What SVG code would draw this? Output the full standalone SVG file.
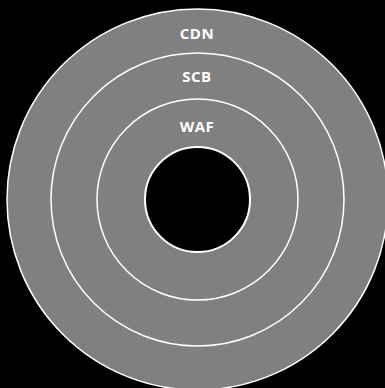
<svg xmlns="http://www.w3.org/2000/svg" width="385" height="388" viewBox="0 0 385 388">
<style>
.ring{fill:#808080;stroke:#ffffff;stroke-width:1.5}
.hole{fill:#000000;stroke:#ffffff;stroke-width:2}
.lbl{fill:#ffffff;font-family:"Open Sans","Liberation Sans",sans-serif;font-weight:700;font-size:15px;letter-spacing:0.5px;text-anchor:middle}
</style>
<rect width="385" height="388" fill="#000000"/>
<g id="cdn"><circle class="ring" cx="197.5" cy="199.5" r="190.5"/><text class="lbl" x="197" y="39">CDN</text></g>
<g id="scb"><circle class="ring" cx="197.5" cy="199.5" r="146.5"/><text class="lbl" x="197" y="82">SCB</text></g>
<g id="waf"><circle class="ring" cx="197.5" cy="199.5" r="100.5"/><text class="lbl" x="197" y="132">WAF</text></g>
<g id="core"><circle class="hole" cx="197.5" cy="199.5" r="52.5"/></g>
<g id="connectors"></g>
</svg>
